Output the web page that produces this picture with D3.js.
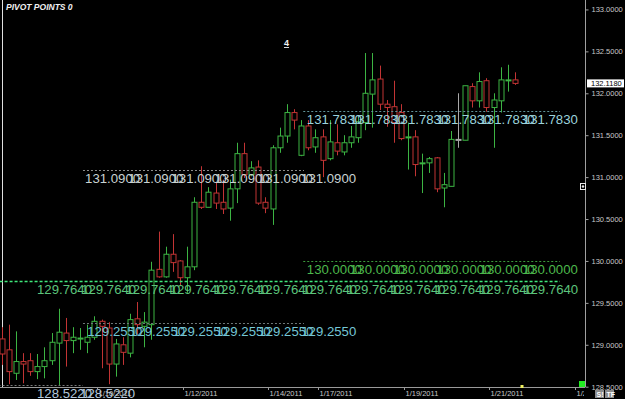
<!DOCTYPE html>
<html>
<head>
<meta charset="utf-8">
<script src="https://cdn.jsdelivr.net/npm/d3@7.9.0/dist/d3.min.js"></script>
<style>
html, body { margin: 0; padding: 0; background: #000; overflow: hidden; }
svg { display: block; }
text { font-family: "Liberation Sans", Arial, sans-serif; }
</style>
</head>
<body>
<svg id="chart" width="625" height="399"></svg>
<script>
// 4h candles, USDJPY-ish
const opens  = [129.07,128.94,128.66,128.80,128.81,128.68,128.74,128.81,129.02,129.14,129.05,129.07,129.03,129.09,129.28,129.20,128.77,129.00,128.90,129.31,129.22,129.24,129.90,129.81,130.08,130.00,129.80,129.93,130.70,130.64,130.81,130.70,130.63,130.86,131.28,131.03,131.12,130.70,130.62,131.35,131.49,131.77,131.26,131.61,131.36,131.48,131.22,131.41,131.30,131.41,131.47,131.65,131.99,132.17,131.87,131.84,131.77,131.47,131.48,131.16,131.17,131.23,130.87,130.89,131.45,131.44,132.08,131.91,132.15,131.83,131.91,132.15,132.16];
const highs  = [129.21,129.24,129.16,128.90,128.90,128.89,128.97,129.14,129.43,129.32,129.21,129.20,129.24,129.34,129.30,129.27,129.07,129.09,129.37,129.51,129.39,129.99,130.35,130.17,130.32,130.01,130.17,130.76,131.13,130.88,130.93,130.97,130.97,131.41,131.41,131.19,131.20,130.76,131.38,131.59,131.87,131.81,131.68,131.68,131.57,131.57,131.68,131.63,131.50,131.61,131.72,132.48,132.48,132.33,131.92,132.15,131.87,131.65,131.56,131.28,131.24,131.24,131.05,131.55,132.00,132.09,132.12,132.25,132.18,132.00,132.31,132.34,132.25];
const lows   = [128.76,128.53,128.58,128.54,128.63,128.59,128.60,128.76,128.51,128.74,128.90,128.94,128.90,129.06,128.72,128.53,128.62,128.76,128.85,129.12,128.97,129.06,129.80,129.80,129.87,129.71,129.62,129.89,130.62,130.64,130.62,130.56,130.48,130.69,130.99,131.01,130.67,130.57,130.43,131.29,131.41,131.57,131.25,131.32,131.29,131.00,131.20,131.26,131.26,131.35,131.41,131.56,131.59,131.80,131.60,131.41,131.44,131.09,131.01,130.81,131.05,130.82,130.64,130.89,131.35,131.44,131.83,131.83,131.78,131.35,131.77,132.02,132.10];
const closes = [128.89,128.68,128.80,128.77,128.68,128.74,128.81,129.03,129.15,129.05,129.09,129.08,129.09,129.28,129.22,128.77,129.01,128.91,129.30,129.24,129.27,129.89,129.81,130.08,129.98,129.80,129.93,130.70,130.64,130.82,130.69,130.62,130.86,131.28,131.03,131.11,130.69,130.63,131.35,131.49,131.77,131.68,131.61,131.35,131.47,131.20,131.42,131.31,131.41,131.48,131.66,132.00,132.16,131.87,131.83,131.65,131.46,131.48,131.15,131.17,131.22,130.86,130.91,131.45,131.45,132.09,131.91,132.14,131.83,131.92,132.16,132.16,132.118];

// date ticks (fractional candle index where each session starts)
const dateTickIdx = [13.4, 25.4, 37.35, 44.4, 56.4, 68.4, 80.4];
const dateLabels = ['1/10/2011', '1/12/2011', '1/14/2011', '1/17/2011', '1/19/2011', '1/21/2011', '1/24/2011'];
const priceTicks = [128.5, 129.0, 129.5, 130.0, 130.5, 131.0, 131.5, 132.0, 132.5, 133.0];

// pivot levels
const pivotValues = [131.783, 131.09, 130.0, 129.764, 129.255, 128.522];
const pivotLabels = ['131.7830', '131.0900', '130.0000', '129.7640', '129.2550', '128.5220'];
const pivotFrom   = [42.3, 11.4, 42.3, -1, 11.4, -1];
const pivotTo     = [78.3, 42.4, 78.3, 78.3, 42.4, 11.4];
const labelFrom   = [42.8, 11.7, 42.8, 4.95, 12.0, 4.95];
const labelCopies = [6, 6, 6, 12, 6, 2];
const lastPrice = 132.118;

const W = 625, H = 399;
const plotRight = 585, plotBottom = 387;
const pivotStyle = [
  { line: '#5f9298', dash: '2,2', width: 1, text: '#9cd4dc', step: 43.2 },
  { line: '#8c8c8c', dash: '2,2', width: 1, text: '#c8d2d2', step: 43.2 },
  { line: '#3a9a3a', dash: '2,2', width: 1, text: '#4cb84c', step: 43.2 },
  { line: '#3ee87a', dash: '3,2', width: 1.5, text: '#5cc47c', step: 44.2 },
  { line: '#6e7878', dash: '2,2', width: 1, text: '#74c6d6', step: 42.8 },
  { line: '#7a7a7a', dash: '2,2', width: 1, text: '#b4c8dc', step: 43.2 }
];

const svg = d3.select('#chart');
svg.append('rect').attr('width', W).attr('height', H).attr('fill', '#000');

const x = d3.scaleLinear().domain([0, 72]).range([1.7, 515]);
const y = d3.scaleLinear().domain([128.5, 133.0]).range([386.7, 9.45]);

svg.append('clipPath').attr('id', 'plot')
  .append('rect').attr('x', 0).attr('y', 0).attr('width', plotRight).attr('height', plotBottom);

const plot = svg.append('g').attr('clip-path', 'url(#plot)');

// left border
plot.append('line')
  .attr('x1', 2.5).attr('x2', 2.5).attr('y1', 0).attr('y2', plotBottom)
  .attr('stroke', '#e0e0e0').attr('stroke-width', 1);

// candles
const candles = d3.range(opens.length).map(i => ({
  i, o: opens[i], h: highs[i], l: lows[i], c: closes[i]
}));
const candleColor = d => d.c > d.o ? '#3cb443' : (d.c < d.o ? '#c23434' : '#a8a8a8');

const cg = plot.selectAll('g.candle').data(candles).join('g').attr('class', 'candle');
cg.append('line')
  .attr('x1', d => Math.round(x(d.i)) + 0.5)
  .attr('x2', d => Math.round(x(d.i)) + 0.5)
  .attr('y1', d => y(d.h))
  .attr('y2', d => y(d.l))
  .attr('stroke', candleColor);
cg.append('rect')
  .attr('x', d => Math.round(x(d.i)) - 2)
  .attr('y', d => Math.min(y(d.o), y(d.c)))
  .attr('width', 5)
  .attr('height', d => Math.max(1, Math.abs(y(d.o) - y(d.c))))
  .attr('fill', '#000')
  .attr('stroke', candleColor)
  .attr('stroke-width', 1);

// pivot lines + stacked labels
pivotValues.forEach((v, k) => {
  const st = pivotStyle[k];
  const yy = Math.round(y(v)) + 0.5;
  plot.append('line')
    .attr('x1', x(pivotFrom[k])).attr('x2', x(pivotTo[k]))
    .attr('y1', yy).attr('y2', yy)
    .attr('stroke', st.line).attr('stroke-width', st.width)
    .attr('stroke-dasharray', st.dash);
  for (let n = 0; n < labelCopies[k]; n++) {
    svg.append('text')
      .attr('x', x(labelFrom[k]) + n * st.step)
      .attr('y', yy + 12.5)
      .attr('font-family', '"Liberation Mono", "DejaVu Sans Mono", monospace')
      .attr('font-size', 13.5)
      .attr('textLength', 55)
      .attr('lengthAdjust', 'spacingAndGlyphs')
      .attr('fill', st.text)
      .text(pivotLabels[k]);
  }
});

// x axis
svg.append('line')
  .attr('x1', 0).attr('x2', plotRight).attr('y1', plotBottom + 0.5).attr('y2', plotBottom + 0.5)
  .attr('stroke', '#9a9a9a');
const xt = svg.append('g').attr('clip-path', 'url(#xaxisclip)');
svg.append('clipPath').attr('id', 'xaxisclip')
  .append('rect').attr('x', 0).attr('y', 380).attr('width', plotRight - 1).attr('height', 20);
dateTickIdx.forEach((t, k) => {
  const xx = Math.round(x(t)) + 0.5;
  xt.append('line').attr('x1', xx).attr('x2', xx).attr('y1', plotBottom).attr('y2', plotBottom + 3)
    .attr('stroke', '#9a9a9a');
  xt.append('text').attr('x', xx + 1).attr('y', 396)
    .attr('font-size', 7.5).attr('fill', '#c8c8c8')
    .text(dateLabels[k]);
});

// y axis
svg.append('line')
  .attr('x1', plotRight + 0.5).attr('x2', plotRight + 0.5).attr('y1', 0).attr('y2', plotBottom)
  .attr('stroke', '#a0a0a0');
const yAxis = d3.axisRight(y).tickValues(priceTicks).tickFormat(d3.format('.4f')).tickSize(3).tickPadding(3);
const ya = svg.append('g').attr('transform', `translate(${plotRight + 0.5},0)`).call(yAxis);
ya.select('.domain').remove();
ya.selectAll('line').attr('stroke', '#a0a0a0');
ya.selectAll('text').attr('fill', '#c8c8c8').attr('font-size', 7.5)
  .attr('font-family', '"Liberation Sans", Arial, sans-serif');

// last price tag
const ly = y(lastPrice);
svg.append('rect').attr('x', 587).attr('y', ly - 4).attr('width', 37).attr('height', 8).attr('fill', '#fff');
svg.append('text').attr('x', 591).attr('y', ly + 3)
  .attr('font-size', 7.5).attr('fill', '#000').text(d3.format('.4f')(lastPrice));

// title and labels
svg.append('text').attr('x', 6).attr('y', 10)
  .attr('font-size', 8.5).attr('font-weight', 'bold').attr('font-style', 'italic')
  .attr('fill', '#f0f0f0').text('PIVOT POINTS \u0030');
svg.append('text').attr('x', 284).attr('y', 46)
  .attr('font-size', 9).attr('font-weight', 'bold')
  .attr('text-decoration', 'underline').attr('fill', '#f0f0f0').text('4');

// small markers
svg.append('rect').attr('x', 580.5).attr('y', 183.5).attr('width', 5).attr('height', 6)
  .attr('fill', '#000').attr('stroke', '#e8e8e8');
svg.append('circle').attr('cx', 583).attr('cy', 186.5).attr('r', 1.2).attr('fill', '#e8e8e8');
svg.append('rect').attr('x', 520.5).attr('y', 385).attr('width', 3).attr('height', 3).attr('fill', '#f0f060');
svg.append('rect').attr('x', 579).attr('y', 381).attr('width', 6).attr('height', 6).attr('fill', '#22ee22');

// S! TF buttons
[['S!', 595], ['TF', 605]].forEach(([t, bx]) => {
  svg.append('rect').attr('x', bx).attr('y', 390).attr('width', 9).attr('height', 8).attr('fill', '#8a8a8a');
  svg.append('text').attr('x', bx + 1.5).attr('y', 397).attr('font-size', 7)
    .attr('font-weight', 'bold').attr('fill', '#fff').text(t);
});
</script>
</body>
</html>
